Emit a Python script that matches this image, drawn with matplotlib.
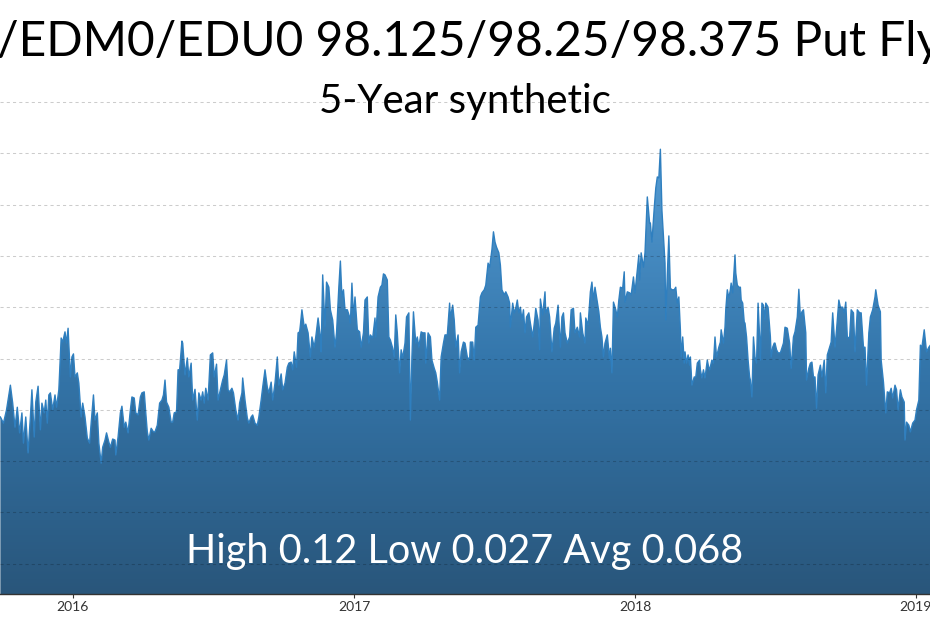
import numpy as np
import pandas as pd
import matplotlib
matplotlib.use("Agg")
import matplotlib.pyplot as plt
import matplotlib.dates as mdates
from matplotlib.colors import LinearSegmentedColormap

plt.rcParams['font.family'] = ['Lato', 'DejaVu Sans']

# ---------------- data ----------------
base_date = "2016-01-01"
day_offsets = [
    -94, -90, -86, -81, -78, -75, -72, -69, -66, -64, -61, -58, -55, -53, -50, -48, -45, -42, -40, -37,
    -35, -33, -31, -29, -26, -23, -21, -18, -15, -13, -10, -8, -6, -3, -1, 1, 3, 6, 8, 11,
    13, 16, 19, 22, 24, 27, 29, 32, 34, 37, 39, 42, 44, 47, 49, 52, 55, 56, 59, 62,
    64, 67, 69, 72, 75, 77, 80, 82, 85, 88, 90, 93, 95, 97, 99, 102, 105,
    107, 110, 113, 116, 118, 120, 122, 125, 128, 130, 132, 135, 137, 139, 142, 143, 146, 149, 151, 154,
    156, 159, 162, 164, 167, 169, 171, 173, 176, 179, 182, 184, 187, 189, 192, 195, 197, 200, 202, 204,
    207, 209, 212, 215, 217, 220, 221, 224, 227, 229, 232, 234, 237, 240, 242, 245, 247, 250, 253, 255,
    258, 260, 263, 266, 268, 271, 273, 276, 279, 281, 284, 286, 288, 291, 293, 295,
    296, 298, 301, 303, 306, 309, 311, 314, 316, 319, 322, 323, 325, 328, 330, 333, 335, 338, 341, 343,
    346, 348, 350, 352, 354, 357, 360, 361, 363, 365, 367, 370, 373, 375, 378, 380, 383, 385, 387, 390,
    393, 394, 397, 400, 402, 404, 406, 409, 411, 413, 416, 418, 420, 422, 425, 427, 429, 432, 434, 437,
    439, 441, 443, 446, 448, 450, 453, 455, 458, 459, 462, 465, 467, 470, 472, 474, 477, 479, 482, 484,
    487, 490, 491, 494, 496, 498, 501, 503, 505, 508, 510, 513, 516, 517, 520, 522, 524, 527, 530, 532,
    535, 537, 540, 542, 545, 547, 549, 551, 554, 556, 558, 561, 563, 566, 568, 569, 572, 574, 576, 578,
    580, 582, 584, 586, 588, 590, 593, 595, 598, 601, 602, 605, 607, 608, 611, 614, 615, 618, 620, 623,
    626, 628, 631, 634, 636, 638, 640, 643, 646, 648, 651, 653, 656, 659, 660, 663, 666, 667, 670, 673,
    675, 677, 679, 681, 684,
    686, 688, 690, 692, 695, 698, 699, 701, 703, 706, 708, 710, 712, 715, 717, 718, 721, 724, 726, 729,
    731, 734, 736, 737, 739, 742, 744, 747, 750, 751, 753, 756, 758, 760, 762, 764, 766, 768, 770, 771,
    773, 775, 777, 779, 782, 784, 786, 788, 790, 791, 793, 795, 796, 798, 800, 802, 803, 805, 808, 810,
    812, 815, 816, 818, 820, 822, 825, 827, 828, 831, 833, 835, 837, 840, 842, 843, 846, 848, 849, 851,
    853, 855, 856, 858, 861, 862, 864, 866, 868, 869, 871, 873, 874, 876, 878, 880, 881, 883, 885, 887,
    889, 891, 893, 894, 896, 898, 900, 901, 904, 907, 908, 910, 912, 913, 915, 917,
    920, 924, 926, 929, 932, 934, 937, 939, 942, 944, 946, 948, 950, 953, 954, 957, 959, 961, 963, 965,
    967, 969, 972, 974, 977, 979, 981, 984, 986, 988, 991, 993, 996, 998, 1001, 1003, 1005, 1007, 1010, 1012,
    1015, 1017, 1020, 1023, 1025, 1028, 1030, 1032, 1035, 1037, 1040, 1043, 1044, 1047, 1050, 1051, 1054, 1056, 1057, 1059,
    1062, 1064, 1066, 1069, 1071, 1073, 1076, 1078, 1081, 1082, 1084, 1087, 1089, 1092, 1095, 1097, 1100, 1102, 1104, 1107,
    1108, 1110, 1113, 1115,
]
values = [
    0.0686, 0.0674, 0.0700, 0.0748, 0.0713, 0.0666, 0.0705, 0.0655, 0.0694, 0.0635,
    0.0686, 0.0616, 0.0686, 0.0739, 0.0647, 0.0715, 0.0746, 0.0661, 0.0713, 0.0694,
    0.0719, 0.0674, 0.0729, 0.0733, 0.0700, 0.0729, 0.0705, 0.0739, 0.0840, 0.0832,
    0.0852, 0.0830, 0.0859, 0.0764, 0.0803, 0.0809, 0.0764, 0.0772, 0.0752, 0.0686,
    0.0713, 0.0686, 0.0645, 0.0635, 0.0674, 0.0729, 0.0680, 0.0694, 0.0635, 0.0596,
    0.0627, 0.0641, 0.0655, 0.0637, 0.0627, 0.0643, 0.0641, 0.0612, 0.0647, 0.0694,
    0.0707, 0.0666, 0.0676, 0.0655, 0.0700, 0.0725, 0.0723, 0.0694, 0.0690, 0.0725,
    0.0733, 0.0735, 0.0694, 0.0657, 0.0641, 0.0664, 0.0657,
    0.0657, 0.0670, 0.0713, 0.0719, 0.0729, 0.0758, 0.0715, 0.0705, 0.0676, 0.0676,
    0.0694, 0.0696, 0.0778, 0.0778, 0.0834, 0.0830, 0.0768, 0.0801, 0.0764, 0.0791,
    0.0719, 0.0740, 0.0680, 0.0733, 0.0719, 0.0735, 0.0713, 0.0742, 0.0719, 0.0807,
    0.0811, 0.0764, 0.0789, 0.0719, 0.0739, 0.0758, 0.0768, 0.0797, 0.0739, 0.0735,
    0.0742, 0.0733, 0.0700, 0.0680, 0.0713, 0.0733, 0.0762, 0.0719, 0.0684, 0.0674,
    0.0686, 0.0690, 0.0674, 0.0670, 0.0686, 0.0719, 0.0744, 0.0778, 0.0744, 0.0733,
    0.0754, 0.0719, 0.0752, 0.0803, 0.0748, 0.0770, 0.0739, 0.0752, 0.0783, 0.0791,
    0.0793, 0.0778, 0.0813, 0.0783, 0.0850, 0.0852,
    0.0865, 0.0895, 0.0861, 0.0867, 0.0850, 0.0803, 0.0842, 0.0822, 0.0842, 0.0879,
    0.0842, 0.0813, 0.0963, 0.0861, 0.0949, 0.0939, 0.0895, 0.0875, 0.0822, 0.0850,
    0.0939, 0.0990, 0.0920, 0.0934, 0.0895, 0.0895, 0.0881, 0.0869, 0.0947, 0.0881,
    0.0920, 0.0856, 0.0852, 0.0822, 0.0850, 0.0914, 0.0920, 0.0830, 0.0846, 0.0840,
    0.0879, 0.0842, 0.0920, 0.0939, 0.0943, 0.0965, 0.0963, 0.0953, 0.0842, 0.0836,
    0.0820, 0.0803, 0.0885, 0.0850, 0.0772, 0.0817, 0.0801, 0.0830, 0.0881, 0.0889,
    0.0680, 0.0803, 0.0891, 0.0830, 0.0842, 0.0822, 0.0852, 0.0850, 0.0850, 0.0791,
    0.0850, 0.0842, 0.0797, 0.0781, 0.0772, 0.0754, 0.0719, 0.0803, 0.0830, 0.0846,
    0.0846, 0.0908, 0.0879, 0.0904, 0.0875, 0.0822, 0.0846, 0.0772, 0.0813, 0.0832,
    0.0830, 0.0803, 0.0797, 0.0832, 0.0832, 0.0797, 0.0861, 0.0865, 0.0920, 0.0928,
    0.0934, 0.0943, 0.0986, 0.0978, 0.1012, 0.1047, 0.1027, 0.1017, 0.1006, 0.0982,
    0.0934, 0.0924, 0.0930, 0.0920, 0.0908, 0.0861, 0.0908, 0.0889, 0.0898, 0.0914,
    0.0889, 0.0900, 0.0875, 0.0895, 0.0850, 0.0881, 0.0889, 0.0869, 0.0842, 0.0881,
    0.0898, 0.0875, 0.0817, 0.0916, 0.0885, 0.0930, 0.0889, 0.0900, 0.0881, 0.0813,
    0.0859, 0.0869, 0.0904, 0.0822, 0.0881, 0.0889, 0.0850, 0.0830, 0.0842, 0.0895,
    0.0898, 0.0850, 0.0861, 0.0842, 0.0889, 0.0850, 0.0830, 0.0879, 0.0865, 0.0930,
    0.0949, 0.0914, 0.0939, 0.0920, 0.0891,
    0.0861, 0.0842, 0.0803, 0.0830, 0.0846, 0.0797, 0.0820, 0.0772, 0.0910, 0.0895,
    0.0881, 0.0914, 0.0939, 0.0937, 0.0969, 0.0910, 0.0930, 0.0928, 0.0924, 0.0959,
    0.0928, 0.0973, 0.1002, 0.0953, 0.1006, 0.0978, 0.1006, 0.1115, 0.1064, 0.1064,
    0.1027, 0.1093, 0.1132, 0.1154, 0.1152, 0.1208, 0.1089, 0.1037, 0.0986, 0.0875,
    0.0963, 0.1039, 0.0937, 0.0934, 0.0934, 0.0939, 0.0908, 0.0920, 0.0856, 0.0803,
    0.0842, 0.0791, 0.0813, 0.0791, 0.0807, 0.0787, 0.0803, 0.0748, 0.0764, 0.0764,
    0.0791, 0.0797, 0.0778, 0.0762, 0.0778, 0.0762, 0.0797, 0.0781, 0.0778, 0.0797,
    0.0791, 0.0842, 0.0803, 0.0822, 0.0832, 0.0856, 0.0830, 0.0861, 0.0895, 0.0934,
    0.0918, 0.0934, 0.0947, 0.0928, 0.1002, 0.0967, 0.0943, 0.0939, 0.0939, 0.0914,
    0.0908, 0.0871, 0.0869, 0.0842, 0.0797, 0.0764, 0.0758, 0.0725, 0.0842, 0.0803,
    0.0791, 0.0908, 0.0842, 0.0797, 0.0908, 0.0904, 0.0875, 0.0908, 0.0900, 0.0842,
    0.0803, 0.0822, 0.0830, 0.0830, 0.0817, 0.0811,
    0.0811, 0.0830, 0.0861, 0.0859, 0.0830, 0.0781, 0.0842, 0.0852, 0.0881, 0.0935,
    0.0881, 0.0891, 0.0895, 0.0850, 0.0758, 0.0781, 0.0791, 0.0793, 0.0764, 0.0764,
    0.0703, 0.0768, 0.0787, 0.0764, 0.0797, 0.0733, 0.0807, 0.0822, 0.0832, 0.0889,
    0.0822, 0.0856, 0.0914, 0.0900, 0.0900, 0.0889, 0.0910, 0.0842, 0.0840, 0.0895,
    0.0889, 0.0813, 0.0895, 0.0889, 0.0889, 0.0822, 0.0822, 0.0748, 0.0850, 0.0881,
    0.0895, 0.0920, 0.0934, 0.0904, 0.0891, 0.0797, 0.0754, 0.0715, 0.0694, 0.0735,
    0.0733, 0.0742, 0.0723, 0.0748, 0.0739, 0.0700, 0.0739, 0.0725, 0.0715, 0.0641,
    0.0676, 0.0670, 0.0657, 0.0674, 0.0680, 0.0700, 0.0719, 0.0826, 0.0822, 0.0856,
    0.0842, 0.0813, 0.0822, 0.0826,
]
tick_years = ["2016", "2017", "2018", "2019"]
title_text = "/EDM0/EDU0 98.125/98.25/98.375 Put Fly"
subtitle_text = "5-Year synthetic"
stat_high, stat_low, stat_avg = "0.12", "0.027", "0.068"

# ---------------- figure ----------------
W, H = 930, 619
fig = plt.figure(figsize=(W / 100, H / 100), dpi=100)
fig.patch.set_facecolor("white")
ax = fig.add_axes([0, 25 / H, 1, (594 - 76.4) / H])

dates = pd.Timestamp(base_date) + pd.to_timedelta(day_offsets, unit="D")
x0 = pd.Timestamp(base_date) - pd.Timedelta(days=94.5)
x1 = pd.Timestamp(base_date) + pd.Timedelta(days=1114.5)
ymin, ymax = 0.03409, 0.135

# gradient-filled area
poly = ax.fill_between(dates, values, 0, facecolor="none", edgecolor="none")
cmap = LinearSegmentedColormap.from_list("g", ["#29567b", "#3476ab", "#58a0d8"])
grad = np.linspace(0, 1, 256).reshape(-1, 1)
im = ax.imshow(grad, cmap=cmap, aspect="auto", origin="lower",
               extent=[mdates.date2num(x0), mdates.date2num(x1), ymin, 0.125],
               zorder=1, interpolation="bilinear")
im.set_clip_path(poly.get_paths()[0], transform=ax.transData)
ax.plot(dates, values, color="#2f7fbf", lw=1.0, zorder=2)

ax.set_xlim(x0, x1)
ax.set_ylim(ymin, ymax)

# grid
ax.set_yticks(np.arange(0.04, 0.1301, 0.01))
ax.yaxis.grid(True, color="black", alpha=0.2, linestyle=(0, (3, 3)), linewidth=0.75, zorder=3)
ax.set_axisbelow(False)
ax.tick_params(axis="y", left=False, labelleft=False)

ticks = [pd.Timestamp(f"{y}-01-01") for y in tick_years]
ax.set_xticks(ticks)
ax.set_xticklabels(tick_years)
ax.tick_params(axis="x", direction="out", length=3, width=0.8, color="#333333",
               labelsize=10, labelcolor="#333333", pad=2)
for s in ["top", "left", "right"]:
    ax.spines[s].set_visible(False)
ax.spines["bottom"].set_color("#333333")
ax.spines["bottom"].set_linewidth(1.0)
ax.spines["bottom"].set_zorder(4)

fig.text(-0.003, 1 - 55.5 / H, title_text, fontsize=34.5, ha="left", va="baseline", color="black")
fig.text(0.5, 1 - 113.3 / H, subtitle_text, fontsize=29, ha="center", va="baseline", color="black")
fig.text(0.5, 1 - 563.3 / H, f"High {stat_high} Low {stat_low} Avg {stat_avg}",
         fontsize=28.5, ha="center", va="baseline", color="white", zorder=5)

fig.savefig("out.png", dpi=100)
